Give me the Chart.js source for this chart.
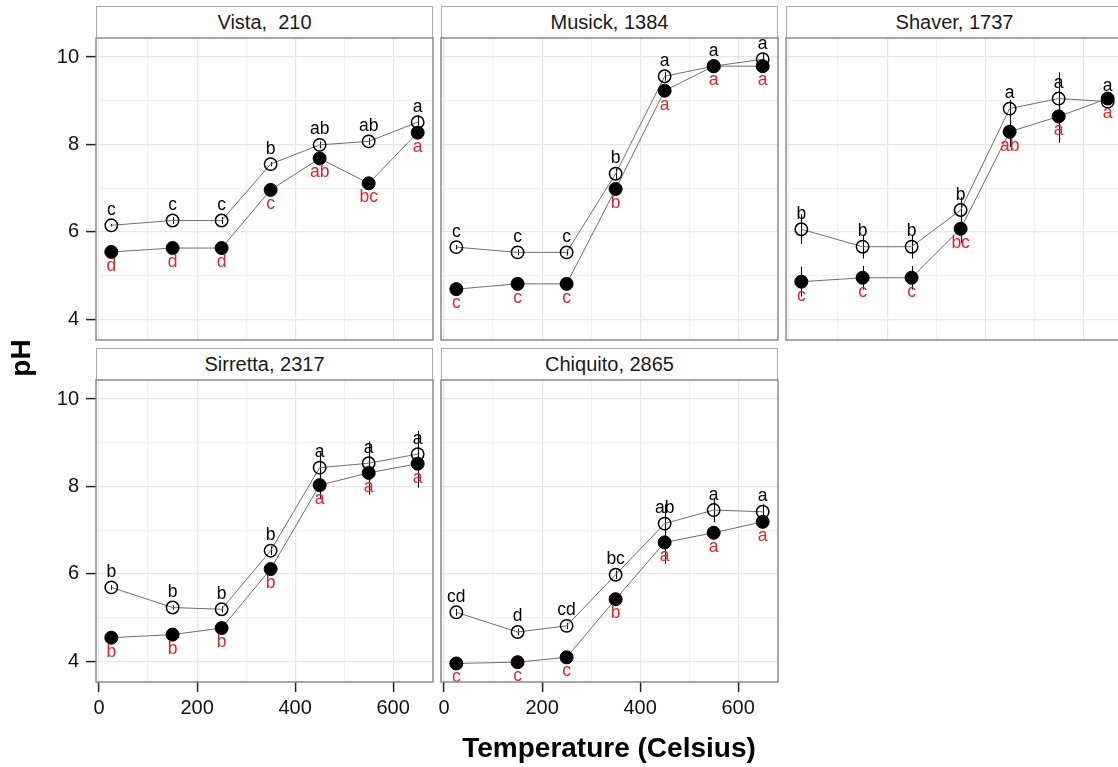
<!DOCTYPE html>
<html><head><meta charset="utf-8">
<script src="https://cdn.jsdelivr.net/npm/chart.js@4.4.1/dist/chart.umd.min.js"></script>
<style>
body{margin:0;background:#fff;width:1118px;height:767px;overflow:hidden;position:relative;font-family:"Liberation Sans",Arial,sans-serif;}
.strip{position:absolute;box-sizing:border-box;border:1px solid #ababab;border-bottom:none;background:#fff;text-align:center;font-size:20px;color:#1a1a1a;white-space:pre;}
.cw{position:absolute;}
.axt{position:absolute;font-weight:bold;font-size:28px;color:#000;white-space:nowrap;line-height:32px;}
</style></head><body>
<div id="root"></div>
<script>
// ---- data ----
const temperatures = [25, 150, 250, 350, 450, 550, 650];
const xTickValues = [0, 100, 200, 300, 400, 500, 600];
const xLabelValues = [0, 200, 400, 600];
const yTickValues = [4, 5, 6, 7, 8, 9, 10];
const yLabelValues = [4, 6, 8, 10];
const panelTitles = ["Vista,  210", "Musick, 1384", "Shaver, 1737", "Sirretta, 2317", "Chiquito, 2865"];

const vistaOpen = [6.15, 6.26, 6.26, 7.55, 7.99, 8.07, 8.51];
const vistaFilled = [5.54, 5.63, 5.63, 6.96, 7.68, 7.11, 8.27];
const vistaOpenErr = [0.03, 0.08, 0.08, 0.05, 0.08, 0.08, 0.15];
const vistaFilledErr = [0.03, 0.03, 0.03, 0.04, 0.04, 0.04, 0.06];
const vistaOpenLetters = ["c", "c", "c", "b", "ab", "ab", "a"];
const vistaFilledLetters = ["d", "d", "d", "c", "ab", "bc", "a"];

const musickOpen = [5.65, 5.53, 5.53, 7.33, 9.56, 9.79, 9.95];
const musickFilled = [4.69, 4.81, 4.81, 6.98, 9.23, 9.79, 9.79];
const musickOpenErr = [0.05, 0.07, 0.07, 0.12, 0.1, 0.08, 0.15];
const musickFilledErr = [0.05, 0.05, 0.05, 0.1, 0.08, 0.15, 0.15];
const musickOpenLetters = ["c", "c", "c", "b", "a", "a", "a"];
const musickFilledLetters = ["c", "c", "c", "b", "a", "a", "a"];

const shaverOpen = [6.06, 5.66, 5.66, 6.5, 8.82, 9.05, 8.98];
const shaverFilled = [4.86, 4.95, 4.95, 6.07, 8.29, 8.64, 9.05];
const shaverOpenErr = [0.34, 0.27, 0.27, 0.3, 0.2, 0.6, 0.05];
const shaverFilledErr = [0.34, 0.27, 0.27, 0.33, 0.35, 0.6, 0.05];
const shaverOpenLetters = ["b", "b", "b", "b", "a", "a", "a"];
const shaverFilledLetters = ["c", "c", "c", "bc", "ab", "a", "a"];

const sirrettaOpen = [5.69, 5.23, 5.19, 6.53, 8.43, 8.53, 8.74];
const sirrettaFilled = [4.54, 4.61, 4.76, 6.11, 8.03, 8.31, 8.52];
const sirrettaOpenErr = [0.05, 0.05, 0.07, 0.1, 0.35, 0.5, 0.53];
const sirrettaFilledErr = [0.05, 0.05, 0.05, 0.1, 0.3, 0.5, 0.55];
const sirrettaOpenLetters = ["b", "b", "b", "b", "a", "a", "a"];
const sirrettaFilledLetters = ["b", "b", "b", "b", "a", "a", "a"];

const chiquitoOpen = [5.12, 4.67, 4.81, 5.98, 7.15, 7.46, 7.42];
const chiquitoFilled = [3.95, 3.98, 4.09, 5.42, 6.72, 6.94, 7.19];
const chiquitoOpenErr = [0.08, 0.08, 0.07, 0.1, 0.44, 0.28, 0.17];
const chiquitoFilledErr = [0.05, 0.05, 0.05, 0.1, 0.5, 0.15, 0.1];
const chiquitoOpenLetters = ["cd", "d", "cd", "bc", "ab", "a", "a"];
const chiquitoFilledLetters = ["c", "c", "c", "b", "a", "a", "a"];

// ---- layout ----
const X_MIN = -6.25, X_MAX = 681.25, Y_MIN = 3.526, Y_MAX = 10.435;
const colLeft = [96, 441, 786];
const rowTop = [38, 380];
const plotW = 337, plotH = 302, stripH = 32;
const FONT = '"Liberation Sans", Arial, sans-serif';
const RED = '#e0262b';

const panels = [
  {title: panelTitles[0], open: vistaOpen, filled: vistaFilled, openErr: vistaOpenErr, filledErr: vistaFilledErr, openLet: vistaOpenLetters, filledLet: vistaFilledLetters, row: 0, col: 0, xAxis: false},
  {title: panelTitles[1], open: musickOpen, filled: musickFilled, openErr: musickOpenErr, filledErr: musickFilledErr, openLet: musickOpenLetters, filledLet: musickFilledLetters, row: 0, col: 1, xAxis: false},
  {title: panelTitles[2], open: shaverOpen, filled: shaverFilled, openErr: shaverOpenErr, filledErr: shaverFilledErr, openLet: shaverOpenLetters, filledLet: shaverFilledLetters, row: 0, col: 2, xAxis: false},
  {title: panelTitles[3], open: sirrettaOpen, filled: sirrettaFilled, openErr: sirrettaOpenErr, filledErr: sirrettaFilledErr, openLet: sirrettaOpenLetters, filledLet: sirrettaFilledLetters, row: 1, col: 0, xAxis: true},
  {title: panelTitles[4], open: chiquitoOpen, filled: chiquitoFilled, openErr: chiquitoOpenErr, filledErr: chiquitoFilledErr, openLet: chiquitoOpenLetters, filledLet: chiquitoFilledLetters, row: 1, col: 1, xAxis: true}
];

function decor(p) {
  return {
    id: 'decor',
    beforeDatasetsDraw(chart) {
      const xs = chart.scales.x, ys = chart.scales.y, ctx = chart.ctx;
      ctx.save();
      ctx.strokeStyle = '#000';
      ctx.lineWidth = 1.1;
      [[p.open, p.openErr], [p.filled, p.filledErr]].forEach(([v, e]) => {
        v.forEach((val, i) => {
          const px = Math.round(xs.getPixelForValue(temperatures[i])) + 0.5;
          ctx.beginPath();
          ctx.moveTo(px, ys.getPixelForValue(val - e[i]));
          ctx.lineTo(px, ys.getPixelForValue(val + e[i]));
          ctx.stroke();
        });
      });
      ctx.restore();
    },
    afterDatasetsDraw(chart) {
      const xs = chart.scales.x, ys = chart.scales.y, ctx = chart.ctx;
      ctx.save();
      ctx.font = '17.5px ' + FONT;
      ctx.textAlign = 'center';
      ctx.textBaseline = 'alphabetic';
      p.open.forEach((val, i) => {
        ctx.fillStyle = '#000';
        ctx.fillText(p.openLet[i], xs.getPixelForValue(temperatures[i]), ys.getPixelForValue(val) - 10.5);
      });
      p.filled.forEach((val, i) => {
        ctx.fillStyle = RED;
        ctx.fillText(p.filledLet[i], xs.getPixelForValue(temperatures[i]), ys.getPixelForValue(val) + 19);
      });
      ctx.restore();
    },
    afterDraw(chart) {
      const ca = chart.chartArea, ctx = chart.ctx;
      ctx.save();
      ctx.strokeStyle = '#8a8a8a';
      ctx.lineWidth = 1.5;
      ctx.strokeRect(ca.left, ca.top, ca.right - ca.left, ca.bottom - ca.top);
      ctx.restore();
    }
  };
}

const root = document.getElementById('root');

panels.forEach(p => {
  const plotLeft = colLeft[p.col], plotTop = rowTop[p.row];
  const s = document.createElement('div');
  s.className = 'strip';
  s.style.left = plotLeft + 'px';
  s.style.top = (plotTop - stripH) + 'px';
  s.style.width = plotW + 'px';
  s.style.height = stripH + 'px';
  s.style.lineHeight = (stripH - 1) + 'px';
  s.textContent = p.title;
  root.appendChild(s);

  const L = p.col === 0 ? 96 : 40;
  const B = p.xAxis ? 60 : 8;
  const PAD = 3;
  const w = L + plotW + PAD, h = PAD + plotH + B;
  const wrap = document.createElement('div');
  wrap.className = 'cw';
  wrap.style.left = (plotLeft - L) + 'px';
  wrap.style.top = (plotTop - PAD) + 'px';
  const cv = document.createElement('canvas');
  cv.width = w; cv.height = h;
  cv.style.width = w + 'px'; cv.style.height = h + 'px';
  wrap.appendChild(cv);
  root.appendChild(wrap);

  const pts = arr => temperatures.map((t, i) => ({x: t, y: arr[i]}));

  new Chart(cv.getContext('2d'), {
    type: 'scatter',
    data: {
      datasets: [
        {data: pts(p.filled), showLine: true, borderColor: '#6e6e6e', borderWidth: 1, pointRadius: 6.5, pointBackgroundColor: '#000', pointBorderColor: '#000', pointBorderWidth: 1, clip: false},
        {data: pts(p.open), showLine: true, borderColor: '#6e6e6e', borderWidth: 1, pointRadius: 6.2, pointBackgroundColor: 'rgba(0,0,0,0)', pointBorderColor: '#000', pointBorderWidth: 1.5, clip: false}
      ]
    },
    options: {
      responsive: false,
      animation: false,
      events: [],
      layout: {autoPadding: false, padding: {top: PAD, right: PAD, left: 0, bottom: 0}},
      plugins: {legend: {display: false}, tooltip: {enabled: false}},
      scales: {
        x: {
          type: 'linear', min: X_MIN, max: X_MAX,
          afterBuildTicks: sc => { sc.ticks = xTickValues.map(v => ({value: v})); },
          afterFit: sc => { sc.height = B; sc.paddingLeft = 0; sc.paddingRight = 0; },
          border: {display: false},
          grid: {
            color: c => (c.tick && xLabelValues.includes(c.tick.value)) ? '#e6e6e6' : '#f2f2f2',
            lineWidth: 1.2,
            drawTicks: p.xAxis, tickLength: 10,
            tickColor: c => (c.tick && xLabelValues.includes(c.tick.value)) ? '#222' : 'rgba(0,0,0,0)',
            tickWidth: 1.5
          },
          ticks: {
            display: p.xAxis, autoSkip: false, maxRotation: 0, padding: 4,
            color: '#111', font: {family: FONT, size: 20},
            callback: v => xLabelValues.includes(v) ? String(v) : ''
          }
        },
        y: {
          type: 'linear', min: Y_MIN, max: Y_MAX,
          afterBuildTicks: sc => { sc.ticks = yTickValues.map(v => ({value: v})); },
          afterFit: sc => { sc.width = L; sc.paddingTop = 0; sc.paddingBottom = 0; },
          border: {display: false},
          grid: {
            color: c => (c.tick && yLabelValues.includes(c.tick.value)) ? '#e6e6e6' : '#f2f2f2',
            lineWidth: 1.2,
            drawTicks: p.col === 0, tickLength: 10,
            tickColor: c => (c.tick && yLabelValues.includes(c.tick.value)) ? '#222' : 'rgba(0,0,0,0)',
            tickWidth: 1.5
          },
          ticks: {
            display: p.col === 0, autoSkip: false, padding: 7,
            color: '#111', font: {family: FONT, size: 20},
            callback: v => yLabelValues.includes(v) ? String(v) : ''
          }
        }
      }
    },
    plugins: [decor(p)]
  });
});

// axis titles
const xt = document.createElement('div');
xt.className = 'axt';
xt.textContent = 'Temperature (Celsius)';
xt.style.left = '0px'; xt.style.width = '1218px'; xt.style.textAlign = 'center';
xt.style.top = '732px';
root.appendChild(xt);

const yt = document.createElement('div');
yt.className = 'axt';
yt.textContent = 'pH';
yt.style.left = '0px'; yt.style.top = '342px'; yt.style.width = '42px'; yt.style.textAlign = 'center';
yt.style.transform = 'rotate(-90deg)';
root.appendChild(yt);
</script>
</body></html>
